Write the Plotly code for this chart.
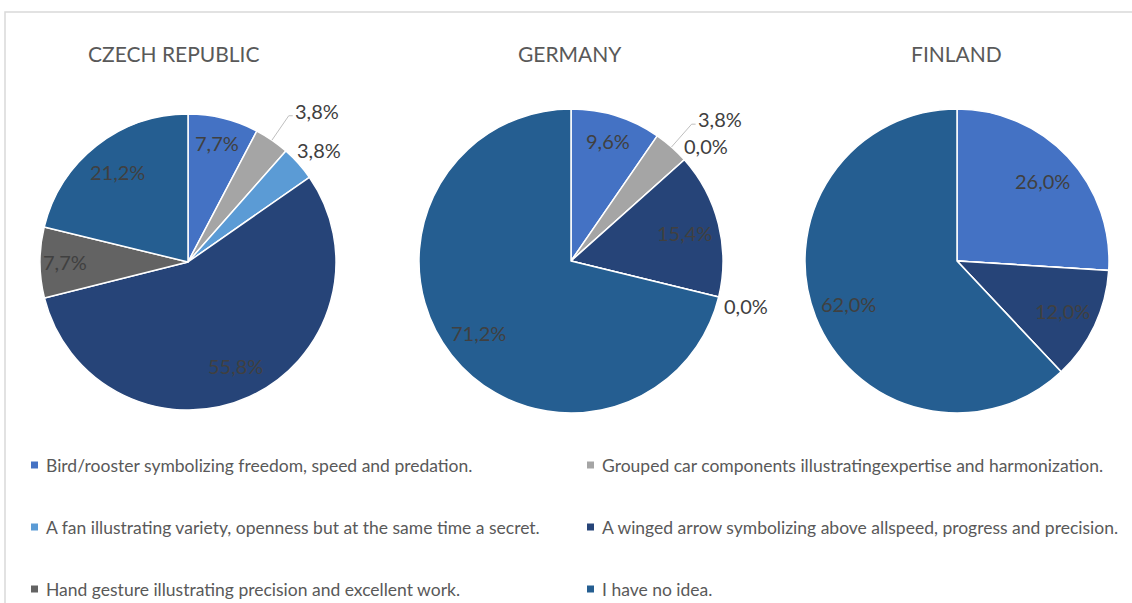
import math
import plotly.graph_objects as go

# ---------------- data ----------------
categories = [
    "Bird/rooster symbolizing freedom, speed and predation.",
    "Grouped car components illustratingexpertise and harmonization.",
    "A fan illustrating variety, openness but at the same time a secret.",
    "A winged arrow symbolizing above allspeed, progress and precision.",
    "Hand gesture illustrating precision and excellent work.",
    "I have no idea.",
]
countries = ["CZECH REPUBLIC", "GERMANY", "FINLAND"]
czech_values = [7.7, 3.8, 3.8, 55.8, 7.7, 21.2]
germany_values = [9.6, 3.8, 0.0, 15.4, 0.0, 71.2]
finland_values = [26.0, None, None, 12.0, None, 62.0]  # blanks: not answered / not labelled

colors = ["#4472C4", "#A5A5A5", "#5B9BD5", "#264478", "#636363", "#255E91"]

# ---------------- layout geometry (pixels) ----------------
W, H = 1132, 603
FONT = "Lato"
pies = [
    dict(values=czech_values, cx=188, cy=262, r=148, tx=174),
    dict(values=germany_values, cx=571, cy=261, r=152, tx=570),
    dict(values=finland_values, cx=957, cy=261, r=152, tx=956),
]
title_y = 53


def px(x):
    return x / W


def py(y):
    return 1 - y / H


def fmt(v):
    return f"{v:.1f}".replace(".", ",") + "%"


fig = go.Figure()
annotations = []
shapes = []

for country, p in zip(countries, pies):
    vals = [0.0 if v is None else v for v in p["values"]]
    cx, cy, r = p["cx"], p["cy"], p["r"]
    fig.add_trace(go.Pie(
        labels=categories,
        values=vals,
        sort=False,
        direction="clockwise",
        rotation=0,
        textinfo="none",
        hoverinfo="label+percent",
        marker=dict(colors=colors, line=dict(color="white", width=1.5)),
        domain=dict(x=[px(cx - r), px(cx + r)], y=[py(cy + r), py(cy - r)]),
        showlegend=False,
        name=country,
    ))
    annotations.append(dict(
        x=px(p["tx"]), y=py(title_y), xref="paper", yref="paper",
        text=country, showarrow=False, xanchor="center", yanchor="middle",
        font=dict(family=FONT, size=21, color="#595959"),
    ))

    total = sum(vals)
    cum = 0.0
    outside_flags = [(v is not None and v < 5) for v in p["values"]]
    for i, v in enumerate(p["values"]):
        val = 0.0 if v is None else v
        mid = (cum + val / 2) / total * 2 * math.pi
        cum += val
        if v is None:
            continue
        sx, sy = math.sin(mid), -math.cos(mid)
        if not outside_flags[i]:
            f = 0.77 if val >= 10 else 0.83
            annotations.append(dict(
                x=px(cx + f * r * sx), y=py(cy + f * r * sy), xref="paper", yref="paper",
                text=fmt(val), showarrow=False, xanchor="center", yanchor="middle",
                font=dict(family=FONT, size=20, color="#404040"),
            ))
        else:
            nxt = outside_flags[i + 1] if i + 1 < len(vals) else False
            if nxt:
                # pushed-out label with leader line
                x0, y0 = cx + r * sx, cy + r * sy
                x1, y1 = cx + 1.2 * r * sx, cy + 1.2 * r * sy
                shapes.append(dict(
                    type="path", xref="paper", yref="paper",
                    path=f"M {px(x0)},{py(y0)} L {px(x1)},{py(y1)} L {px(x1 + 4)},{py(y1)}",
                    line=dict(color="#BFBFBF", width=1),
                ))
                annotations.append(dict(
                    x=px(x1 + 4), y=py(y1 - 5), xref="paper", yref="paper",
                    text=fmt(val), showarrow=False, xanchor="left", yanchor="middle",
                    font=dict(family=FONT, size=20, color="#404040"),
                ))
            else:
                f = 1.17
                annotations.append(dict(
                    x=px(cx + f * r * sx + 2), y=py(cy + f * r * sy + 3), xref="paper", yref="paper",
                    text=fmt(val), showarrow=False, xanchor="center", yanchor="middle",
                    font=dict(family=FONT, size=20, color="#404040"),
                ))

# ---------------- legend (2 columns x 3 rows) ----------------
leg_cols_x = [31, 587]
leg_rows_y = [465, 527, 589]
msize = 7
for i, (cat, col) in enumerate(zip(categories, colors)):
    lx = leg_cols_x[i % 2]
    ly = leg_rows_y[i // 2]
    shapes.append(dict(
        type="rect", xref="paper", yref="paper",
        x0=px(lx), x1=px(lx + msize), y0=py(ly + msize / 2), y1=py(ly - msize / 2),
        fillcolor=col, line=dict(width=0),
    ))
    annotations.append(dict(
        x=px(lx + msize + 6), y=py(ly), xref="paper", yref="paper",
        text=cat, showarrow=False, xanchor="left", yanchor="middle",
        font=dict(family=FONT, size=17.5, color="#595959"),
    ))

# frame (top and left edges visible)
shapes.append(dict(
    type="path", xref="paper", yref="paper",
    path=f"M {px(5)},{py(H + 10)} L {px(5)},{py(12)} L {px(W + 10)},{py(12)}",
    line=dict(color="#D9D9D9", width=1.5),
))

fig.update_layout(
    width=W, height=H, autosize=False,
    margin=dict(l=0, r=0, t=0, b=0),
    paper_bgcolor="white", plot_bgcolor="white",
    annotations=annotations, shapes=shapes,
    showlegend=False,
)

fig.write_html("out.html")
